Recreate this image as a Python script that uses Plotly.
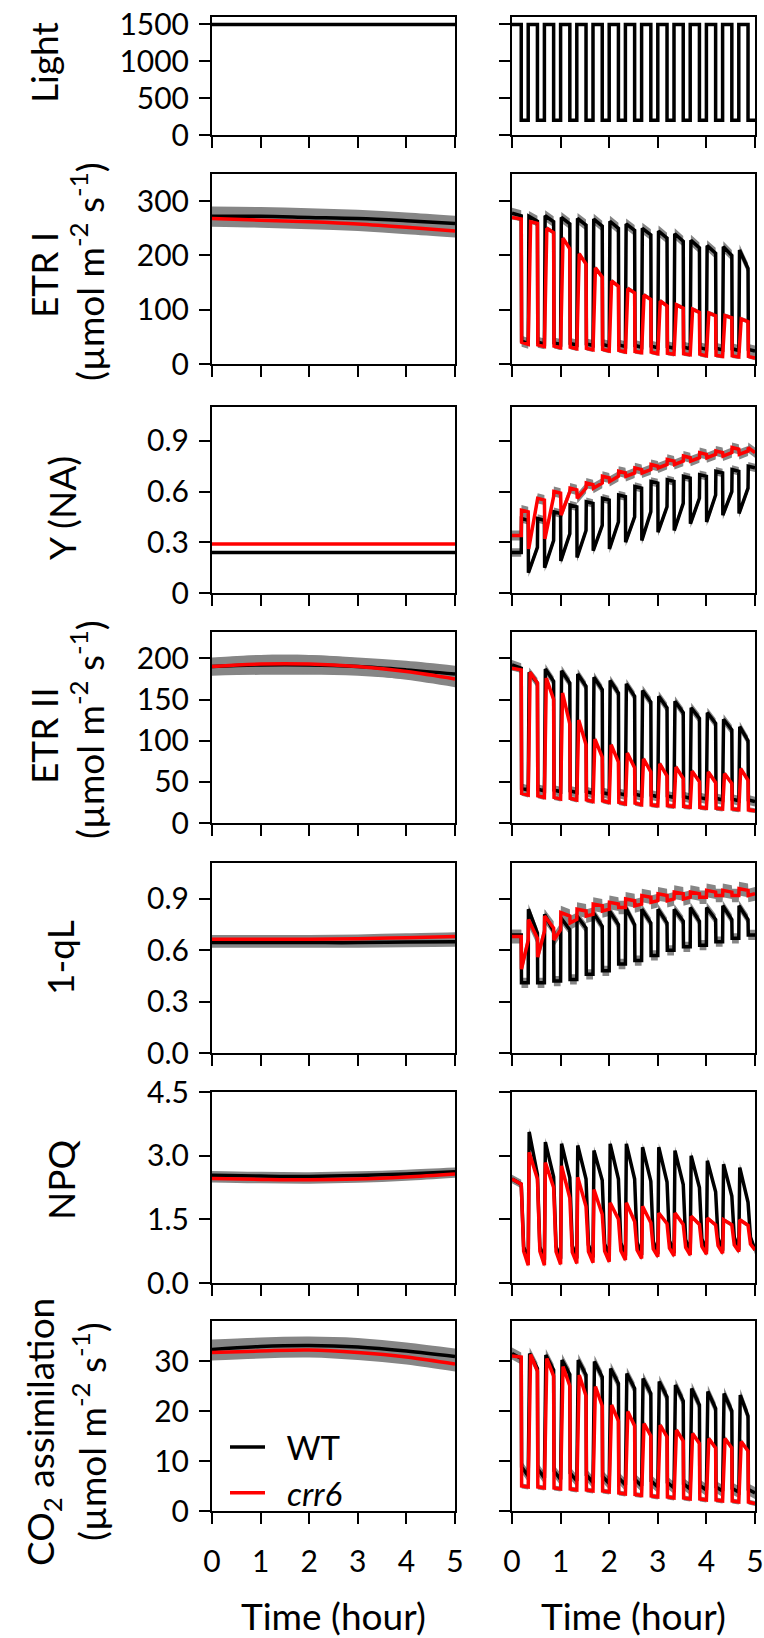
import plotly.graph_objects as go

W, H = 764, 1638
FONT = "Lato"
GREY = "#868686"

# ---------------- protocol (fluctuating light) ----------------
n_cycles = 15
period_h = 1 / 3          # one high + low light cycle (h)
high_h = 0.19             # duration of the high-light phase (h)
light_high = [1500, 1500, 1500, 1500, 1500, 1500, 1500, 1500, 1500, 1500, 1500, 1500, 1500, 1500, 1500]
light_low = [200, 200, 200, 200, 200, 200, 200, 200, 200, 200, 200, 200, 200, 200, 200]

# ---------------- constant light (left column), hourly values ----------------
ss_hours = [0, 1, 2, 3, 4, 5]
ss_light = [1500, 1500, 1500, 1500, 1500, 1500]
wt_etr1_ss = [272, 272, 270, 268, 264, 259]
crr6_etr1_ss = [268, 265, 262, 258, 252, 245]
wt_etr1_se = [18, 17, 17, 16, 15, 14]
crr6_etr1_se = [15, 14, 14, 13, 13, 12]
wt_yna_ss = [0.24, 0.24, 0.24, 0.24, 0.24, 0.24]
crr6_yna_ss = [0.29, 0.29, 0.29, 0.29, 0.29, 0.29]
wt_etr2_ss = [190, 192, 192, 190, 186, 181]
crr6_etr2_ss = [190, 193, 193, 190, 184, 175]
wt_etr2_se = [11, 12, 12, 11, 11, 10]
crr6_etr2_se = [10, 11, 11, 10, 10, 10]
wt_ql_ss = [0.645, 0.645, 0.645, 0.645, 0.648, 0.650]
crr6_ql_ss = [0.665, 0.665, 0.665, 0.668, 0.674, 0.680]
wt_ql_se = [0.03, 0.03, 0.03, 0.03, 0.03, 0.03]
crr6_ql_se = [0.025, 0.025, 0.025, 0.025, 0.025, 0.025]
wt_npq_ss = [2.54, 2.52, 2.51, 2.53, 2.57, 2.62]
crr6_npq_ss = [2.46, 2.44, 2.43, 2.45, 2.50, 2.57]
wt_npq_se = [0.10, 0.10, 0.10, 0.10, 0.10, 0.10]
crr6_npq_se = [0.09, 0.09, 0.09, 0.09, 0.09, 0.09]
wt_co2_ss = [32.3, 32.9, 33.1, 32.8, 32.0, 30.9]
crr6_co2_ss = [31.7, 32.0, 32.2, 31.7, 30.8, 29.4]
wt_co2_se = [2.0, 1.8, 1.8, 1.8, 1.7, 1.6]
crr6_co2_se = [1.6, 1.5, 1.5, 1.5, 1.5, 1.5]

# ---------------- fluctuating light (right column), per cycle ----------------
# hs = value at start of high light, he = end of high light,
# ls = start of low light, le = end of low light, fl_se = standard error band
wt_etr1_hs = [278, 272, 273, 270, 268, 267, 263, 258, 250, 245, 240, 228, 218, 216, 210]
wt_etr1_he = [273, 263, 262, 258, 256, 254, 250, 246, 238, 232, 226, 214, 204, 200, 176]
wt_etr1_ls = [42, 40, 39, 38, 37, 36, 35, 34, 33, 32, 31, 30, 29, 28, 27]
wt_etr1_le = [38, 37, 36, 35, 34, 33, 32, 31, 30, 29, 28, 27, 26, 25, 24]
crr6_etr1_hs = [270, 262, 250, 232, 203, 177, 153, 139, 127, 116, 109, 101, 94, 89, 83]
crr6_etr1_he = [267, 259, 242, 212, 184, 160, 143, 131, 119, 107, 103, 95, 89, 85, 78]
crr6_etr1_ls = [40, 35, 33, 31, 29, 27, 25, 23, 22, 20, 19, 18, 16, 15, 14]
crr6_etr1_le = [36, 32, 30, 28, 26, 24, 22, 21, 19, 18, 17, 15, 14, 13, 11]
wt_etr1_fl_se, crr6_etr1_fl_se = 10, 4

wt_yna_hs = [0.24, 0.12, 0.15, 0.19, 0.21, 0.25, 0.26, 0.30, 0.31, 0.36, 0.37, 0.41, 0.42, 0.46, 0.47]
wt_yna_he = [0.24, 0.27, 0.31, 0.35, 0.37, 0.40, 0.42, 0.45, 0.48, 0.51, 0.53, 0.56, 0.58, 0.60, 0.62]
wt_yna_ls = [0.44, 0.44, 0.48, 0.52, 0.54, 0.56, 0.58, 0.63, 0.66, 0.67, 0.69, 0.70, 0.72, 0.73, 0.75]
wt_yna_le = [0.43, 0.43, 0.47, 0.51, 0.53, 0.55, 0.57, 0.62, 0.65, 0.66, 0.68, 0.69, 0.71, 0.72, 0.74]
crr6_yna_hs = [0.34, 0.26, 0.32, 0.46, 0.56, 0.62, 0.66, 0.69, 0.71, 0.74, 0.76, 0.78, 0.80, 0.81, 0.82]
crr6_yna_he = [0.34, 0.54, 0.57, 0.60, 0.62, 0.65, 0.69, 0.71, 0.73, 0.76, 0.78, 0.80, 0.82, 0.83, 0.84]
crr6_yna_ls = [0.49, 0.56, 0.60, 0.62, 0.65, 0.69, 0.72, 0.74, 0.76, 0.79, 0.81, 0.83, 0.84, 0.86, 0.86]
crr6_yna_le = [0.48, 0.55, 0.59, 0.61, 0.64, 0.68, 0.71, 0.73, 0.75, 0.78, 0.80, 0.82, 0.83, 0.85, 0.83]
wt_yna_fl_se, crr6_yna_fl_se = 0.025, 0.03

wt_etr2_hs = [192, 183, 187, 185, 181, 177, 173, 169, 161, 154, 148, 140, 134, 126, 117]
wt_etr2_he = [188, 170, 172, 170, 166, 162, 158, 154, 147, 140, 134, 127, 121, 113, 100]
wt_etr2_ls = [42, 41, 40, 39, 38, 37, 36, 35, 34, 33, 32, 31, 30, 29, 28]
wt_etr2_le = [40, 39, 38, 37, 36, 35, 34, 33, 32, 31, 30, 29, 28, 27, 26]
crr6_etr2_hs = [188, 183, 176, 158, 125, 102, 95, 85, 78, 72, 68, 63, 62, 60, 66]
crr6_etr2_he = [186, 170, 150, 120, 95, 80, 74, 67, 62, 57, 54, 50, 49, 48, 52]
crr6_etr2_ls = [36, 33, 31, 30, 28, 27, 25, 24, 22, 21, 20, 19, 18, 17, 16]
crr6_etr2_le = [34, 31, 29, 28, 26, 25, 23, 22, 21, 20, 19, 18, 17, 16, 15]
wt_etr2_fl_se, crr6_etr2_fl_se = 6, 3

wt_ql_hs = [0.69, 0.84, 0.81, 0.79, 0.80, 0.82, 0.83, 0.85, 0.84, 0.84, 0.84, 0.85, 0.85, 0.86, 0.86]
wt_ql_he = [0.69, 0.70, 0.71, 0.72, 0.73, 0.74, 0.75, 0.75, 0.76, 0.76, 0.77, 0.77, 0.78, 0.78, 0.78]
wt_ql_ls = [0.41, 0.41, 0.42, 0.43, 0.46, 0.48, 0.52, 0.54, 0.57, 0.60, 0.62, 0.63, 0.65, 0.67, 0.69]
wt_ql_le = [0.41, 0.41, 0.42, 0.43, 0.46, 0.48, 0.52, 0.54, 0.57, 0.60, 0.62, 0.63, 0.65, 0.67, 0.69]
crr6_ql_hs = [0.68, 0.78, 0.80, 0.82, 0.84, 0.87, 0.88, 0.90, 0.92, 0.93, 0.94, 0.94, 0.95, 0.95, 0.96]
crr6_ql_he = [0.68, 0.67, 0.73, 0.80, 0.83, 0.86, 0.87, 0.89, 0.91, 0.92, 0.93, 0.93, 0.94, 0.94, 0.95]
crr6_ql_ls = [0.49, 0.56, 0.66, 0.76, 0.80, 0.83, 0.85, 0.86, 0.88, 0.89, 0.90, 0.91, 0.92, 0.92, 0.92]
crr6_ql_le = [0.66, 0.71, 0.72, 0.78, 0.81, 0.84, 0.85, 0.87, 0.89, 0.90, 0.91, 0.91, 0.92, 0.92, 0.93]
wt_ql_fl_se, crr6_ql_fl_se = 0.03, 0.04

wt_npq_hs = [2.45, 3.56, 3.32, 3.28, 3.24, 3.12, 3.28, 3.28, 3.20, 3.20, 3.12, 3.00, 2.88, 2.80, 2.72]
wt_npq_he = [2.33, 2.55, 2.50, 2.48, 2.45, 2.42, 2.45, 2.45, 2.40, 2.38, 2.32, 2.25, 2.15, 2.05, 1.90]
wt_npq_ls = [0.85, 0.85, 0.86, 0.88, 0.90, 0.92, 0.94, 0.96, 0.98, 1.00, 1.02, 1.04, 1.06, 1.08, 1.08]
wt_npq_le = [0.55, 0.55, 0.57, 0.58, 0.60, 0.62, 0.64, 0.66, 0.68, 0.70, 0.72, 0.74, 0.76, 0.78, 0.78]
crr6_npq_hs = [2.45, 3.08, 2.84, 2.76, 2.49, 2.20, 1.89, 1.89, 1.81, 1.65, 1.65, 1.57, 1.53, 1.49, 1.49]
crr6_npq_he = [2.33, 2.45, 2.25, 2.00, 1.80, 1.62, 1.50, 1.45, 1.42, 1.40, 1.38, 1.38, 1.37, 1.37, 1.36]
crr6_npq_ls = [0.75, 0.75, 0.74, 0.73, 0.74, 0.75, 0.76, 0.78, 0.80, 0.82, 0.84, 0.86, 0.88, 0.90, 0.92]
crr6_npq_le = [0.42, 0.42, 0.44, 0.46, 0.48, 0.50, 0.54, 0.58, 0.62, 0.64, 0.66, 0.68, 0.70, 0.74, 0.78]
wt_npq_fl_se, crr6_npq_fl_se = 0.1, 0.05

wt_co2_hs = [31.5, 31.5, 31.2, 30.2, 30.2, 29.9, 28.5, 27.5, 26.5, 25.9, 25.2, 24.5, 23.9, 23.5, 23.2]
wt_co2_he = [30.5, 28.5, 28.2, 27.3, 27.2, 26.8, 25.5, 24.5, 23.5, 22.8, 22.0, 21.2, 20.5, 20.0, 19.0]
wt_co2_ls = [8.8, 8.4, 8.0, 7.6, 7.2, 6.9, 6.6, 6.3, 6.0, 5.7, 5.4, 5.1, 4.8, 4.5, 4.3]
wt_co2_le = [7.0, 6.6, 6.3, 6.0, 5.7, 5.5, 5.2, 5.0, 4.8, 4.6, 4.4, 4.2, 4.0, 3.8, 3.6]
crr6_co2_hs = [31.0, 31.3, 30.5, 28.9, 27.2, 24.9, 21.2, 19.9, 17.5, 17.2, 16.2, 15.5, 14.5, 14.5, 13.9]
crr6_co2_he = [30.8, 28.0, 27.0, 25.0, 23.0, 21.0, 18.0, 17.0, 15.0, 14.8, 14.0, 13.5, 12.6, 12.6, 12.0]
crr6_co2_ls = [5.0, 4.8, 4.6, 4.4, 4.2, 4.0, 3.6, 3.3, 3.0, 2.8, 2.6, 2.4, 2.2, 2.0, 1.8]
crr6_co2_le = [4.8, 4.6, 4.4, 4.2, 4.0, 3.8, 3.4, 3.1, 2.8, 2.6, 2.4, 2.2, 2.0, 1.8, 1.5]
wt_co2_fl_se, crr6_co2_fl_se = 1.2, 0.5

# ---------------- axes / tick labels ----------------
hour_ticks = [0, 1, 2, 3, 4, 5]
y_ranges = [[0, 1600], [0, 350], [0, 1.1], [0, 232], [0, 1.11], [0, 4.5], [0, 38]]
y_tickvals = [[0, 500, 1000, 1500], [0, 100, 200, 300], [0, 0.3, 0.6, 0.9],
              [0, 50, 100, 150, 200], [0, 0.3, 0.6, 0.9], [0, 1.5, 3.0, 4.5], [0, 10, 20, 30]]
y_ticktext = [["0", "500", "1000", "1500"], ["0", "100", "200", "300"], ["0", "0.3", "0.6", "0.9"],
              ["0", "50", "100", "150", "200"], ["0.0", "0.3", "0.6", "0.9"],
              ["0.0", "1.5", "3.0", "4.5"], ["0", "10", "20", "30"]]

# ---------------- layout geometry (pixels) ----------------
row_px = [(17, 135), (174, 364), (407, 593), (632, 823), (863, 1053), (1092, 1283), (1321, 1511)]
col_px = [(212, 455), (512, 755)]

fig = go.Figure()


def ax(r, c):
    k = 2 * r + c + 1
    return ("x" if k == 1 else f"x{k}"), ("y" if k == 1 else f"y{k}")


def add(r, c, **kw):
    xa, ya = ax(r, c)
    kw.setdefault("showlegend", False)
    kw.setdefault("hoverinfo", "skip")
    fig.add_trace(go.Scatter(xaxis=xa, yaxis=ya, mode="lines", **kw))


def cycles(hs, he, ls, le, rise, fall):
    xs, ys = [], []
    for i in range(n_cycles):
        t0 = i * period_h
        th = t0 + high_h
        t1 = min((i + 1) * period_h, 5.0)
        if i == 0:
            xs.append(t0); ys.append(hs[0])
        else:
            xs += [t0, t0 + rise]; ys += [le[i - 1], hs[i]]
        xs += [th, th + fall, t1]
        ys += [he[i], ls[i], le[i]]
    return xs, ys


LW = 3.5

# ---- row 0 : light ----
add(0, 0, x=ss_hours, y=ss_light, line=dict(color="black", width=LW))
lx, ly = [], []
for i in range(n_cycles):
    t0 = i * period_h
    lx += [t0, t0 + high_h]
    ly += [light_high[i], light_low[i]]
lx.append(5.0); ly.append(light_low[-1])
add(0, 1, x=lx, y=ly, line=dict(color="black", width=LW, shape="hv"))

# ---- left column steady-state panels ----
left_sets = [
    (1, wt_etr1_ss, wt_etr1_se, crr6_etr1_ss, crr6_etr1_se),
    (2, wt_yna_ss, None, crr6_yna_ss, None),
    (3, wt_etr2_ss, wt_etr2_se, crr6_etr2_ss, crr6_etr2_se),
    (4, wt_ql_ss, wt_ql_se, crr6_ql_ss, crr6_ql_se),
    (5, wt_npq_ss, wt_npq_se, crr6_npq_ss, crr6_npq_se),
    (6, wt_co2_ss, wt_co2_se, crr6_co2_ss, crr6_co2_se),
]
for r, wv, ws, cv, cs in left_sets:
    for v, s in ((wv, ws), (cv, cs)):
        if s is None:
            continue
        lo = [a - b for a, b in zip(v, s)]
        hi = [a + b for a, b in zip(v, s)]
        add(r, 0, x=ss_hours, y=lo, line=dict(width=0, shape="spline", color=GREY))
        add(r, 0, x=ss_hours, y=hi, line=dict(width=0, shape="spline", color=GREY),
            fill="tonexty", fillcolor=GREY)
    add(r, 0, x=ss_hours, y=wv, line=dict(color="black", width=LW, shape="spline"),
        name="&nbsp;&nbsp;WT", showlegend=(r == 6))
    add(r, 0, x=ss_hours, y=cv, line=dict(color="#ff0000", width=LW, shape="spline"),
        name="&nbsp;&nbsp;<i>crr6</i>", showlegend=(r == 6))

# ---- right column fluctuating-light panels ----
right_sets = [
    (1, (wt_etr1_hs, wt_etr1_he, wt_etr1_ls, wt_etr1_le), (crr6_etr1_hs, crr6_etr1_he, crr6_etr1_ls, crr6_etr1_le), wt_etr1_fl_se, crr6_etr1_fl_se, 0.015, 0.05, 0.008),
    (2, (wt_yna_hs, wt_yna_he, wt_yna_ls, wt_yna_le), (crr6_yna_hs, crr6_yna_he, crr6_yna_ls, crr6_yna_le), wt_yna_fl_se, crr6_yna_fl_se, 0.005, 0.01, 0.005),
    (3, (wt_etr2_hs, wt_etr2_he, wt_etr2_ls, wt_etr2_le), (crr6_etr2_hs, crr6_etr2_he, crr6_etr2_ls, crr6_etr2_le), wt_etr2_fl_se, crr6_etr2_fl_se, 0.02, 0.04, 0.008),
    (4, (wt_ql_hs, wt_ql_he, wt_ql_ls, wt_ql_le), (crr6_ql_hs, crr6_ql_he, crr6_ql_ls, crr6_ql_le), wt_ql_fl_se, crr6_ql_fl_se, 0.005, 0.005, 0.005),
    (5, (wt_npq_hs, wt_npq_he, wt_npq_ls, wt_npq_le), (crr6_npq_hs, crr6_npq_he, crr6_npq_ls, crr6_npq_le), wt_npq_fl_se, crr6_npq_fl_se, 0.02, 0.02, 0.05),
    (6, (wt_co2_hs, wt_co2_he, wt_co2_ls, wt_co2_le), (crr6_co2_hs, crr6_co2_he, crr6_co2_ls, crr6_co2_le), wt_co2_fl_se, crr6_co2_fl_se, 0.03, 0.05, 0.008),
]
for r, wt, cr, se_wt, se_cr, rise_wt, rise_cr, fall in right_sets:
    wx, wy = cycles(*wt, rise_wt, fall)
    cx, cy = cycles(*cr, rise_cr, fall)
    for xs, ys, se in ((wx, wy, se_wt), (cx, cy, se_cr)):
        px = xs + xs[::-1]
        py = [v + se for v in ys] + [v - se for v in ys[::-1]]
        add(r, 1, x=px, y=py, fill="toself", fillcolor=GREY, line=dict(width=0, color=GREY))
    add(r, 1, x=wx, y=wy, line=dict(color="black", width=LW))
    add(r, 1, x=cx, y=cy, line=dict(color="#ff0000", width=LW))

# ---------------- axes ----------------
tickfont = dict(family=FONT, size=30, color="black")
layout_axes = {}
for r in range(7):
    for c in range(2):
        k = 2 * r + c + 1
        xname = "xaxis" if k == 1 else f"xaxis{k}"
        yname = "yaxis" if k == 1 else f"yaxis{k}"
        x0, x1 = col_px[c]
        top, bot = row_px[r]
        layout_axes[xname] = dict(
            domain=[x0 / W, x1 / W], range=[0, 5], tickvals=hour_ticks,
            ticktext=[str(h) for h in hour_ticks],
            ticks="outside", ticklen=11, tickwidth=2, tickcolor="black",
            showline=True, linecolor="black", linewidth=2, mirror=True,
            showgrid=False, zeroline=False, showticklabels=(r == 6),
            tickfont=tickfont, anchor=("y" if k == 1 else f"y{k}"), fixedrange=True,
            ticklabelstandoff=12, automargin=False,
        )
        layout_axes[yname] = dict(
            domain=[1 - bot / H, 1 - top / H], range=y_ranges[r],
            tickvals=y_tickvals[r], ticktext=y_ticktext[r],
            ticks="outside", ticklen=11, tickwidth=2, tickcolor="black",
            showline=True, linecolor="black", linewidth=2, mirror=True,
            showgrid=False, zeroline=False, showticklabels=(c == 0),
            tickfont=tickfont, anchor=("x" if k == 1 else f"x{k}"), fixedrange=True,
            ticklabelstandoff=4, automargin=False,
        )

unit = "(µmol m<sup>-2</sup> s<sup>-1</sup>)"
titles = [
    ("Light", 44, 63),
    ("ETR I", 44, 275), (unit, 87, 272),
    ("Y (NA)", 61, 508),
    ("ETR II", 44, 736), (unit, 87, 730),
    ("1-qL", 59, 958),
    ("NPQ", 60, 1180),
    ("CO<sub>2</sub> assimilation", 42, 1432), (unit, 89, 1432),
]
annotations = []
for txt, px, py in titles:
    annotations.append(dict(text=txt, x=px / W, y=1 - py / H, xref="paper", yref="paper",
                            xanchor="center", yanchor="middle", textangle=-90, showarrow=False,
                            font=dict(family=FONT, size=37, color="black")))
for c in range(2):
    x0, x1 = col_px[c]
    annotations.append(dict(text="Time (hour)", x=(x0 + x1) / 2 / W, y=0,
                            xref="paper", yref="paper", xanchor="center", yanchor="bottom",
                            yshift=-2, showarrow=False,
                            font=dict(family=FONT, size=37, color="black")))

fig.update_layout(
    width=W, height=H, margin=dict(l=0, r=0, t=0, b=0, autoexpand=False),
    paper_bgcolor="white", plot_bgcolor="white",
    font=dict(family=FONT, color="black"),
    annotations=annotations,
    showlegend=True,
    legend=dict(x=225 / W, y=1 - 1419 / H, xanchor="left", yanchor="top",
                traceorder="normal",
                bgcolor="rgba(0,0,0,0)", font=dict(family=FONT, size=33, color="black"),
                tracegroupgap=0, itemwidth=35),
    **layout_axes,
)

fig.write_html("out.html", config={"displayModeBar": False, "staticPlot": True},
               post_script="document.body.style.margin='0';document.body.style.overflow='hidden';")
